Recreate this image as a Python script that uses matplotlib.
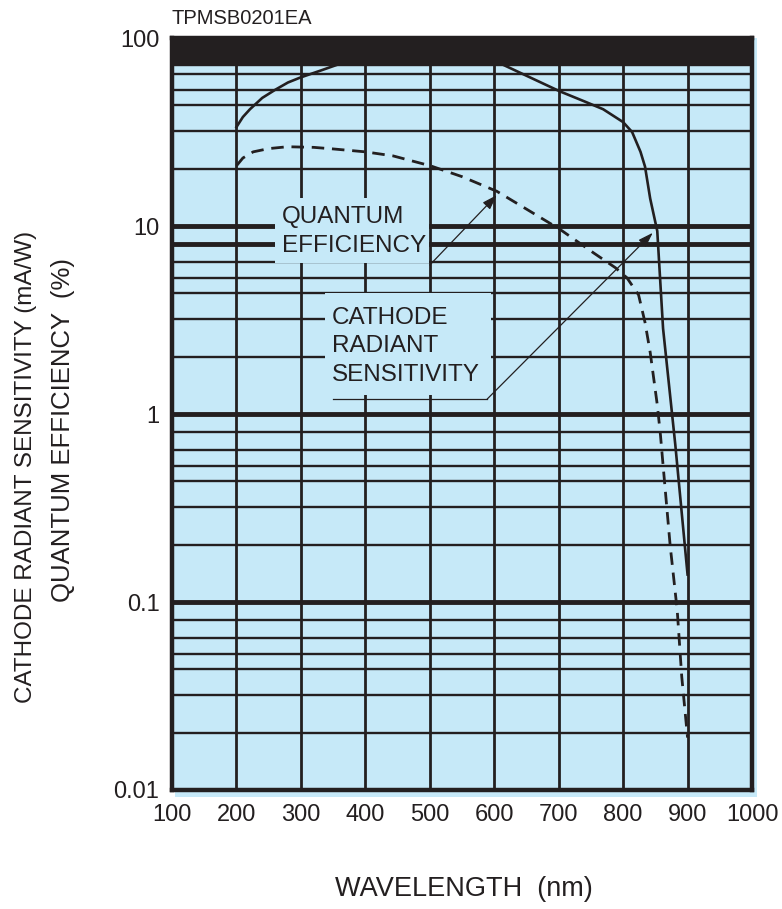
import numpy as np
import matplotlib
matplotlib.use("Agg")
import matplotlib.pyplot as plt
from matplotlib.patches import Rectangle

plt.rcParams['font.family'] = ['Liberation Sans', 'DejaVu Sans']

# cathode radiant sensitivity (mA/W), solid line
rad_wl = [200, 210, 221, 240, 260, 280, 299, 330, 356, 400, 450, 500, 560, 614,
          650, 702, 740, 769, 800, 814, 827, 834, 842, 853, 862, 881, 900]
rad_val = [33.6, 38, 41.8, 48, 53, 58, 61.6, 67, 72, 80, 84, 84, 80, 72,
           63, 52, 46, 41.8, 35.7, 31.6, 24.8, 20.7, 14, 9.4, 2.85, 0.685, 0.14]

# quantum efficiency (%), dashed line
qe_wl = [200, 210, 226, 250, 279, 320, 350, 400, 443, 501, 550, 604, 650, 702,
         754, 788, 806, 824, 834, 842, 853, 858, 861, 873, 884, 891, 900]
qe_val = [20.9, 23, 24.8, 25.8, 26.4, 26.2, 25.7, 24.8, 23.6, 20.9, 18.3, 15.3, 12.3, 9.6,
          7.2, 6.0, 5.3, 4.3, 3.07, 2.13, 1.12, 0.77, 0.585, 0.2, 0.09, 0.04, 0.019]

x_ticks = [100, 200, 300, 400, 500, 600, 700, 800, 900, 1000]
y_ticks = [0.01, 0.1, 1, 10, 100]
y_tick_labels = ['0.01', '0.1', '1', '10', '100']
minor_factors = [2, 3.2, 4.4, 5.3, 6.4, 8]

BLUE = '#c6e9f8'
INK = '#231f20'

fig = plt.figure(figsize=(7.82, 9.09), dpi=100)
fig.patch.set_facecolor('white')

# offset blue panel behind the plot box
fig.patches.append(Rectangle((175 / 782, 1 - 797 / 909), 582 / 782, 759 / 909,
                             transform=fig.transFigure, facecolor=BLUE,
                             edgecolor='none', zorder=-1))

ax = fig.add_axes([172 / 782, 1 - 790 / 909, 580 / 782, 752 / 909])
ax.set_zorder(1)
ax.set_facecolor(BLUE)
ax.set_yscale('log')
ax.set_xlim(100, 1000)
ax.set_ylim(0.01, 100)

# grid
for x in x_ticks[1:-1]:
    ax.axvline(x, color=INK, lw=2.0, zorder=1)
for d in [0.01, 0.1, 1, 10]:
    ax.axhline(d, color=INK, lw=3.5, zorder=1)
    for f in minor_factors:
        thick = (d == 1 and f == 8)
        ax.axhline(d * f, color=INK, lw=3.5 if thick else 1.7, zorder=1)
ax.axhspan(72, 100, color=INK, zorder=1.5)

for s in ax.spines.values():
    s.set_linewidth(3.2)
    s.set_color(INK)
    s.set_zorder(5)

ax.set_xticks(x_ticks)
ax.set_xticklabels([str(v) for v in x_ticks])
ax.set_yticks(y_ticks)
ax.set_yticklabels(y_tick_labels)
ax.yaxis.set_minor_locator(matplotlib.ticker.NullLocator())
ax.tick_params(axis='both', length=0, labelsize=17, colors=INK)
ax.tick_params(axis='y', pad=9)
ax.tick_params(axis='x', pad=10)

# text boxes that mask the grid
ax.add_patch(Rectangle((260, 6.35), 239, 14.1 - 6.35, facecolor=BLUE,
                       edgecolor='none', zorder=2))
ax.add_patch(Rectangle((337, 1.26), 258, 4.4 - 1.26, facecolor=BLUE,
                       edgecolor='none', zorder=2))

ax.plot(rad_wl, rad_val, color=INK, lw=1.9, zorder=3)
ax.plot(qe_wl, qe_val, color=INK, lw=2.0, linestyle=(0, (4.5, 2.8)), zorder=3)

tkw = dict(fontsize=17.5, color=INK, va='center', ha='left', zorder=4)
ax.text(271, 11.2, 'QUANTUM', **tkw)
ax.text(271, 7.8, 'EFFICIENCY', **tkw)
ax.text(348, 3.24, 'CATHODE', **tkw)
ax.text(348, 2.3, 'RADIANT', **tkw)
ax.text(348, 1.61, 'SENSITIVITY', **tkw)

akw = dict(arrowstyle='-|>,head_length=0.9,head_width=0.3', color=INK, lw=0.9,
           shrinkA=0, shrinkB=0)
ax.annotate('', xy=(604, 14.6), xytext=(500, 6.2), arrowprops=akw, zorder=4)
ax.plot([350, 589], [1.2, 1.2], color=INK, lw=0.9, zorder=4)
ax.annotate('', xy=(846, 9.2), xytext=(589, 1.2), arrowprops=akw, zorder=4)

fig.text(172 / 782, 1 - 18 / 909, 'TPMSB0201EA', fontsize=14.5, color=INK,
         ha='left', va='center')
fig.text(464 / 782, 1 - 889 / 909, 'WAVELENGTH  (nm)', fontsize=19.5, color=INK,
         ha='center', va='center')
fig.text(26 / 782, 1 - 467 / 909, 'CATHODE RADIANT SENSITIVITY (mA/W)', fontsize=17.5,
         color=INK, rotation=90, ha='center', va='center')
fig.text(63 / 782, 1 - 430 / 909, 'QUANTUM EFFICIENCY  (%)', fontsize=18.5,
         color=INK, rotation=90, ha='center', va='center')

fig.savefig('out.png', dpi=100)
